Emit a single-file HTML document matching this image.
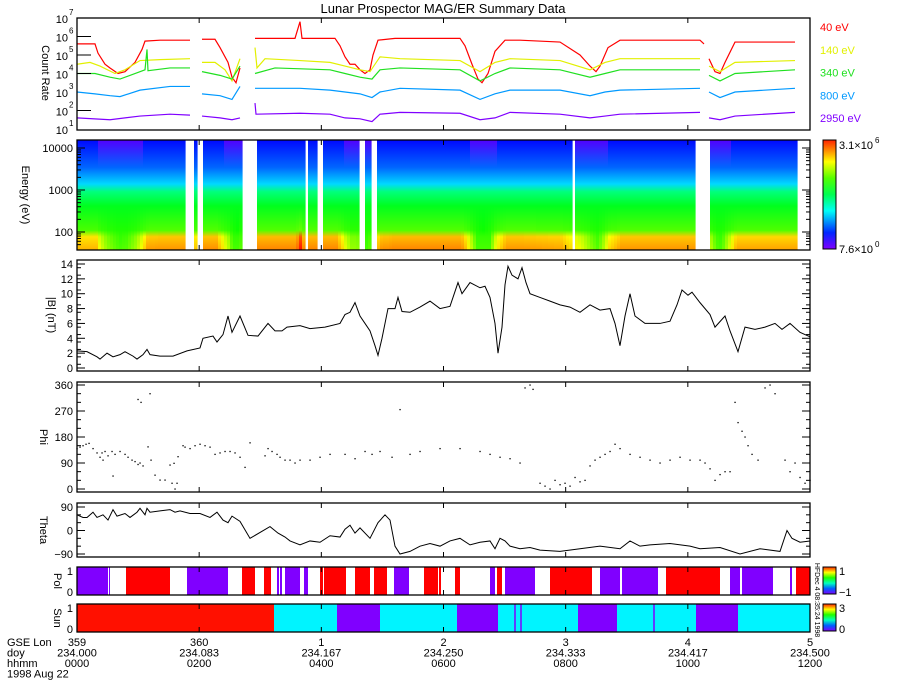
<!DOCTYPE html>
<html><head><meta charset="utf-8"><style>
html,body{margin:0;padding:0;background:#fff;}
svg{display:block;font-family:"Liberation Sans",sans-serif;}
</style></head><body>
<svg id="c" width="900" height="700" viewBox="0 0 900 700">
<defs id="defs"></defs>
<text x="443" y="13" font-size="13" text-anchor="middle">Lunar Prospector MAG/ER Summary Data</text>
</svg>
<script>
// ---------- DATA ----------
// time in plot units (0..733 spans 12 hours, 0000-1200 UT)
const xTickLon = ["359","360","1","2","3","4","5"];
const xTickDoy = ["234.000","234.083","234.167","234.250","234.333","234.417","234.500"];
const xTickHhmm = ["0000","0200","0400","0600","0800","1000","1200"];
const energyLabels = ["40 eV","140 eV","340 eV","800 eV","2950 eV"];
const energyColors = ["#ff0000","#e2f000","#20e020","#0099ff","#8000ff"];
// log10 count rates, segments split by data gaps
const ch40 = [
 [[0,5.6],[18,5.6],[21,5.1],[28,4.5],[33,4.3],[41,4.0],[48,4.1],[58,4.6],[65,5.3],[68,5.75],[83,5.8],[113,5.8]],
 [[125,5.85],[138,5.85],[143,5.4],[151,4.6],[155,3.8],[159,3.5],[163,4.3]],
 [[178,5.9],[218,5.9],[223,6.8],[225,5.9],[258,5.9],[263,5.5],[268,4.9],[273,4.5],[278,4.5],[283,4.2],[288,4.0],[293,4.2],[296,5.0],[301,5.8],[318,5.9],[383,5.9],[388,5.5],[395,4.5],[401,3.7],[405,3.5],[411,4.0],[418,5.2],[428,5.8],[443,5.8],[483,5.7],[503,5.0],[513,4.4],[519,4.1],[523,4.4],[531,5.4],[543,5.8],[623,5.8],[627,5.6]],
 [[632,4.8],[638,4.1],[643,4.0],[648,4.6],[658,5.7],[718,5.7]]
];
const ch140 = [
 [[0,4.5],[13,4.6],[23,4.4],[38,4.0],[48,4.2],[63,4.7],[83,4.75],[113,4.8]],
 [[125,4.6],[138,4.6],[148,4.2],[155,3.6],[163,4.8]],
 [[178,5.4],[180,4.3],[188,4.8],[223,4.7],[253,4.6],[268,4.4],[283,4.2],[293,4.1],[303,4.9],[323,4.8],[383,4.7],[403,4.1],[418,4.6],[433,4.8],[483,4.7],[513,4.2],[528,4.6],[543,4.8],[623,4.8]],
 [[632,4.4],[643,4.1],[658,4.6],[718,4.7]]
];
const ch340 = [
 [[0,4.0],[18,4.0],[33,3.8],[43,3.7],[63,4.1],[68,4.2],[70,5.3],[71,4.15],[93,4.3],[113,4.3]],
 [[125,4.1],[143,3.9],[155,3.7],[163,4.4]],
 [[178,4.0],[198,4.3],[253,4.2],[268,4.0],[283,3.8],[295,3.7],[303,4.2],[323,4.3],[383,4.2],[403,3.6],[418,4.0],[433,4.3],[483,4.2],[513,3.8],[528,4.0],[543,4.2],[623,4.2]],
 [[632,3.9],[643,3.6],[658,4.0],[718,4.2]]
];
const ch800 = [
 [[0,3.0],[18,2.9],[33,2.8],[43,2.75],[63,3.1],[93,3.3],[113,3.3]],
 [[125,2.9],[143,2.8],[155,2.6],[163,3.3]],
 [[178,3.2],[223,3.2],[253,3.1],[268,3.0],[283,2.9],[295,2.7],[303,3.0],[323,3.2],[383,3.1],[403,2.6],[418,2.9],[433,3.1],[483,3.1],[513,2.8],[528,3.0],[543,3.1],[623,3.2]],
 [[632,3.0],[643,2.7],[658,3.0],[718,3.2]]
];
const ch2950 = [
 [[0,1.6],[33,1.5],[63,1.7],[93,1.8],[113,1.75]],
 [[125,1.7],[143,1.6],[155,1.5],[163,1.6]],
 [[178,2.4],[179,1.8],[223,1.85],[253,1.8],[268,1.6],[283,1.55],[295,1.4],[303,1.8],[323,1.9],[383,1.85],[403,1.5],[418,1.6],[433,1.9],[483,1.8],[513,1.6],[528,1.7],[543,1.8],[623,1.9]],
 [[632,1.6],[643,1.5],[658,1.7],[718,1.9]]
];
// spectrogram data gaps [start,end] in time units
const specGaps = [[110,116],[120,124],[166,179],[228,231],[241,244],[283,286],[295,298],[496,498],[620,631]];
const specEnd = 718;
// |B| nT
const bT = [0,10,20,23,30,36,43,48,56,60,66,70,73,83,96,110,123,126,136,140,146,151,155,163,171,181,191,198,205,210,223,233,248,263,268,273,278,283,288,293,298,301,305,311,318,321,325,333,343,353,363,373,381,385,393,403,408,413,418,421,425,428,431,435,441,445,449,453,463,473,483,493,503,513,523,533,538,543,548,553,558,568,583,593,600,605,611,615,623,633,638,648,653,661,668,678,688,698,705,713,723,733];
const bV = [2.3,2.2,1.5,1.2,2.0,1.5,1.8,2.2,1.6,1.2,1.8,2.5,1.8,1.6,1.6,2.3,2.7,4.0,4.3,3.5,4.5,7.0,4.8,7.0,4.4,4.3,6.0,5.0,5.0,5.5,5.7,5.3,5.5,6.0,7.2,7.5,8.8,7.0,6.0,5.0,3.0,1.7,4.0,8.0,8.0,9.5,7.6,7.5,8.2,9.0,8.0,8.3,11.5,10.0,11.5,10.8,11.0,9.5,6.0,2.0,5.5,11.2,13.7,12.5,12.0,13.5,11.5,10.0,9.5,9.0,8.5,8.2,7.5,8.5,7.8,8.0,6.0,3.0,7.0,10.0,7.0,6.0,6.0,6.3,8.5,10.5,9.8,10.2,8.8,7.2,5.5,7.0,5.0,2.2,5.5,5.2,5.5,6.0,5.2,6.0,4.8,4.2];
// Phi (deg), scattered samples
const phiT = [0,3,6,9,12,16,20,23,25,26,28,31,35,38,43,48,51,55,58,61,63,66,61,64,73,36,71,74,78,83,88,93,95,98,100,97,101,106,108,113,118,123,128,133,138,143,148,153,158,163,168,173,188,191,195,200,203,208,213,218,223,233,243,253,268,278,288,295,303,315,323,333,343,363,383,403,413,423,433,443,448,453,456,463,468,473,478,483,488,493,498,503,508,513,518,523,528,533,538,543,553,563,573,583,593,603,613,623,628,633,638,643,648,653,658,661,665,668,671,675,681,688,693,698,708,713,718,723,728,733];
const phiV = [140,145,150,155,158,140,125,110,125,100,130,115,130,120,130,120,110,100,95,85,90,80,310,300,330,45,146,100,48,31,31,83,20,0,20,89,112,150,145,140,150,155,150,145,120,125,130,130,125,110,75,160,115,140,130,120,110,100,100,90,100,100,110,120,120,105,130,120,130,110,275,120,130,140,140,130,120,110,105,90,350,360,345,20,10,0,30,15,20,10,40,25,30,80,100,110,120,130,155,140,120,110,100,90,100,110,100,100,90,70,30,50,60,60,300,230,200,180,150,120,100,350,360,330,100,60,90,40,20,30];
// Theta (deg)
const thT = [0,6,10,16,20,26,31,36,40,48,53,60,63,68,70,73,83,93,98,103,113,123,133,140,146,151,155,163,173,193,201,208,213,223,233,243,253,263,268,273,278,283,293,301,308,313,318,323,333,343,353,363,373,383,393,403,413,418,423,428,433,443,453,463,483,503,523,543,553,563,573,593,613,623,643,663,683,703,710,715,723,733];
const thV = [60,50,50,70,50,60,40,80,55,65,50,70,85,60,85,70,75,80,70,75,65,65,50,70,40,30,55,35,-30,15,-10,-25,-40,-55,-40,-45,-20,-25,5,20,-10,10,-30,30,60,40,-60,-90,-80,-60,-50,-60,-40,-30,-55,-45,-40,-70,-30,-40,-60,-70,-65,-75,-80,-70,-60,-70,-40,-60,-55,-50,-60,-70,-65,-90,-70,-80,0,-30,-45,-40];
// Polarity segments [start,end,value] value: 1 = red, -1 = purple
const polStart = [0,32,49,110,165,187,200,203,208,227,243,247,278,297,317,347,362,378,413,420,428,473,523,535,545,589,653,665,713,719];
const polEnd   = [31,33,93,151,178,194,202,205,223,231,246,269,293,310,332,361,364,383,418,425,458,515,535,543,581,643,663,696,715,733];
const polVal   = [-1,-1,1,-1,1,1,-1,-1,-1,-1,1,1,1,1,-1,1,1,1,-1,1,-1,1,-1,-1,-1,1,-1,-1,-1,1];
// Sun segments: 3 = red, 1 = cyan, 0 = purple
const sunStart = [0,197,260,303,380,421,501,540,619,661];
const sunEnd   = [197,260,303,380,421,501,540,619,661,733];
const sunVal   = [3,1,0,1,0,1,0,1,0,1];
const sunLines = [438,444,577];

// ---------- SCALES ----------
const X0=77, X1=810, T_MAX=733;
const xS = t => X0 + (t/T_MAX)*(X1-X0);
const yCount = lg => 129 - (lg-1)*18.5;
const yEnergy = e => 148 + (4 - Math.log10(e))*42;
const yB = b => 368 - b*(104/14);
const yPhi = p => 489 - p*(104/360);
const yTh = th => 530.5 - th*(23.5/90);

const svg=document.getElementById('c'), defs=document.getElementById('defs');
const NS='http://www.w3.org/2000/svg';
function el(tag,attrs,parent){const e=document.createElementNS(NS,tag);for(const k in attrs)e.setAttribute(k,attrs[k]);(parent||svg).appendChild(e);return e;}
function txt(x,y,s,size,anchor,fill,parent){const t=el('text',{x:x,y:y,'font-size':size||11,'text-anchor':anchor||'start',fill:fill||'#000'},parent);t.textContent=s;return t;}
const hue = v => 'hsl('+Math.round(270-270*Math.max(0,Math.min(1,v)))+',100%,50%)';

function frame(y0,y1,name){
  const g=el('g',{});
  
  
  el('rect',{x:X0,y:y0,width:X1-X0,height:y1-y0,fill:'none',stroke:'#000','stroke-width':1.3},g);
  for(let i=0;i<=6;i++){const x=xS(i*T_MAX/6);
    el('line',{x1:x,x2:x,y1:y1,y2:y1-5,stroke:'#000'},g);
    el('line',{x1:x,x2:x,y1:y0,y2:y0+5,stroke:'#000'},g);}
  return g;
}
function yTitle(x,y,s,name){const t=txt(0,0,s,11,'middle');t.setAttribute('transform','translate('+x+','+y+') rotate(90)');
  
  }
function yTicks(g,vals,fn,labels,minor){
  vals.forEach((v,i)=>{const y=fn(v);el('line',{x1:X0,x2:X0+8,y1:y,y2:y,stroke:'#000'},g);el('line',{x1:X1,x2:X1-8,y1:y,y2:y,stroke:'#000'},g);
    if(labels)txt(X0-4,y+4,labels[i],11,'end','#000',g);});
  minor.forEach(v=>{const y=fn(v);el('line',{x1:X0,x2:X0+4,y1:y,y2:y,stroke:'#000'},g);el('line',{x1:X1,x2:X1-4,y1:y,y2:y,stroke:'#000'},g);});
}

// ---------- PANEL 1: count rate ----------
const chans=[ch40,ch140,ch340,ch800,ch2950];
chans.forEach((segs,ci)=>{segs.forEach(seg=>{
  const p=el('polyline',{points:seg.map(d=>xS(d[0])+','+yCount(d[1])).join(' '),fill:'none',stroke:energyColors[ci],'stroke-width':1.2});
  
  
});
  const lt=txt(820,31+ci*22.8,energyLabels[ci],11,'start',energyColors[ci]);
  
  
});
const g1=frame(18,130,'count-rate-panel');
[1,2,3,4,5,6,7].forEach(d=>{const y=yCount(d);
  if(d>1&&d<7&&d!==3){el('line',{x1:X0,x2:X0+14,y1:y,y2:y,stroke:'#000'},g1);}
  txt(X0-9,y+5,'10',11,'end','#000',g1);
  txt(X0-8,y-3,String(d),8,'start','#000',g1);});
yTitle(42,73,'Count Rate','count-rate-axis-title');

// ---------- PANEL 2: spectrogram ----------
const specG=el('g',{});


function redAt(t){for(const seg of ch40){if(t>=seg[0][0]&&t<=seg[seg.length-1][0]){for(let i=1;i<seg.length;i++){if(t<=seg[i][0]){const a=seg[i-1],b=seg[i];const f=(t-a[0])/((b[0]-a[0])||1);return a[1]+f*(b[1]-a[1]);}}}}return 5.5;}
const colW=3;let gi=0;
for(let t=0;t<specEnd;t+=colW){
  if(specGaps.some(g=>t+colW>g[0]&&t<g[1]))continue;
  const r=redAt(t);const hi=(r-4)/2;
  const id='sg'+(gi++);
  const lg=el('linearGradient',{id:id,x1:0,y1:0,x2:0,y2:1},defs);
  const stops=[[0,r<5.2?0.04:0.12],[0.25,0.2],[0.40,0.3],[0.47,0.45],[0.6,0.53],[0.82,0.58+0.05*hi],[0.88,0.6+0.25*Math.max(0,hi)],[1,0.62+0.28*Math.max(0,hi)]];
  stops.forEach(s=>el('stop',{offset:s[0],'stop-color':hue(s[1])},lg));
  el('rect',{x:xS(t),y:140,width:xS(colW)-xS(0)+0.6,height:110,fill:'url(#'+id+')'},specG);
}
const g2=frame(140,250,'spectrogram-panel');
yTicks(g2,[10000,1000,100],yEnergy,['10000','1000','100'],[50,60,70,80,90,200,300,400,500,600,700,800,900,2000,3000,4000,5000,6000,7000,8000,9000]);
yTitle(22,195,'Energy (eV)','energy-axis-title');
// colorbar
const cg=el('linearGradient',{id:'cbar',x1:0,y1:1,x2:0,y2:0},defs);
[0,0.15,0.35,0.5,0.65,0.8,1].forEach(o=>el('stop',{offset:o,'stop-color':hue(o*0.97)},cg));
const cb=el('rect',{x:823,y:140,width:13,height:109,fill:'url(#cbar)',stroke:'#000'});


txt(839,149,'3.1×10',11);txt(875,143,'6',8);
txt(839,253,'7.6×10',11);txt(875,247,'0',8);

// ---------- PANEL 3: |B| ----------
const pB=el('polyline',{points:bT.map((t,i)=>xS(t)+','+yB(bV[i])).join(' '),fill:'none',stroke:'#000','stroke-width':1});


const g3=frame(260,371,'b-magnitude-panel');
const bm=[];for(let v=0.5;v<14.5;v+=1)bm.push(v);
yTicks(g3,[0,2,4,6,8,10,12,14],yB,['0','2','4','6','8','10','12','14'],bm);
yTitle(48,315,'|B| (nT)','b-axis-title');

// ---------- PANEL 4: Phi ----------
const phG=el('g',{});


phiT.forEach((t,i)=>el('rect',{x:xS(t)-0.6,y:yPhi(phiV[i])-0.6,width:1.3,height:1.3,fill:'#000'},phG));
const g4=frame(382,492,'phi-panel');
yTicks(g4,[0,90,180,270,360],yPhi,['0','90','180','270','360'],[30,60,120,150,210,240,300,330]);
yTitle(40,437,'Phi','phi-axis-title');

// ---------- PANEL 5: Theta ----------
const pTh=el('polyline',{points:thT.map((t,i)=>xS(t)+','+yTh(thV[i])).join(' '),fill:'none',stroke:'#000','stroke-width':1});


const g5=frame(503,557,'theta-panel');
yTicks(g5,[-90,0,90],yTh,['−90','0','90'],[-60,-30,30,60]);
yTitle(40,530,'Theta','theta-axis-title');

// ---------- PANEL 6: Pol ----------
const polG=el('g',{});


polStart.forEach((s,i)=>el('rect',{x:xS(s),y:567,width:xS(polEnd[i])-xS(s),height:28,fill:polVal[i]>0?'#ff0000':'#8000ff'},polG));
const g6=frame(567,595,'polarity-panel');
txt(73,575,'1',11,'end','#000',g6);txt(73,596,'0',11,'end','#000',g6);
yTitle(54,581,'Pol','pol-axis-title');
const pg=el('linearGradient',{id:'pbar',x1:0,y1:1,x2:0,y2:0},defs);
[0,0.2,0.4,0.6,0.8,1].forEach(o=>el('stop',{offset:o,'stop-color':hue(o*0.97)},pg));
const pcb=el('rect',{x:823,y:567,width:13,height:27,fill:'url(#pbar)',stroke:'#000'});


txt(839,575,'1',11);txt(839,596,'−1',11);

// ---------- PANEL 7: Sun ----------
const sunG=el('g',{});


const sunCol={3:'#ff1000',1:'#00f4ff',0:'#8000ff'};
sunStart.forEach((s,i)=>el('rect',{x:xS(s),y:604,width:xS(sunEnd[i])-xS(s),height:28,fill:sunCol[sunVal[i]]},sunG));
sunLines.forEach(t=>el('line',{x1:xS(t),x2:xS(t),y1:604,y2:632,stroke:'#8000ff','stroke-width':1.5},sunG));
const g7=frame(604,632,'sun-panel');
txt(73,612,'1',11,'end','#000',g7);txt(73,633,'0',11,'end','#000',g7);
yTitle(54,618,'Sun','sun-axis-title');
const sg=el('linearGradient',{id:'sbar',x1:0,y1:1,x2:0,y2:0},defs);
[0,0.2,0.4,0.6,0.8,1].forEach(o=>el('stop',{offset:o,'stop-color':hue(o*0.97)},sg));
const scb=el('rect',{x:823,y:604,width:13,height:27,fill:'url(#sbar)',stroke:'#000'});


txt(839,612,'3',11);txt(839,633,'0',11);
const stamp=txt(0,0,'HFDec  4 08:35:24 1998',7,'middle');
stamp.setAttribute('transform','translate(815,600) rotate(90)');



// ---------- X axis labels ----------
const xl=el('g',{});


['GSE Lon','doy','hhmm','1998 Aug 22'].forEach((s,i)=>txt(7,646+i*10.5,s,11,'start','#000',xl));
for(let i=0;i<=6;i++){const x=xS(i*T_MAX/6);
  txt(x,646,xTickLon[i],11,'middle','#000',xl);
  txt(x,656.5,xTickDoy[i],11,'middle','#000',xl);
  txt(x,667,xTickHhmm[i],11,'middle','#000',xl);}
</script>
</body></html>
